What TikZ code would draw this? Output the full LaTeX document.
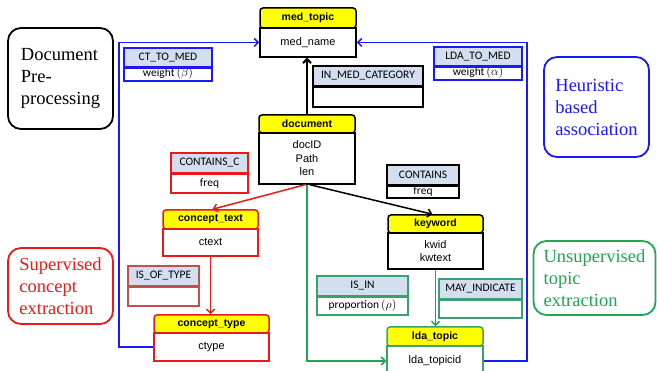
\documentclass[tikz,border=0pt]{standalone}
\usepackage{fontspec}
\setmainfont{Liberation Serif}
\setsansfont{Liberation Sans}
\newfontfamily\relfont{Carlito}
\newfontfamily\callfont{Liberation Serif}
\usetikzlibrary{arrows.meta}

\definecolor{hdrblue}{RGB}{211,223,238}
\definecolor{lblue}{RGB}{25,25,250}
\definecolor{lred}{RGB}{235,25,25}
\definecolor{lgreen}{RGB}{30,165,85}
\definecolor{dred}{RGB}{192,80,77}
\definecolor{mgreen}{RGB}{60,160,110}
\definecolor{eyellow}{RGB}{255,255,0}

\tikzset{
  ehead/.style={fill=eyellow, rounded corners=3pt, line width=1.5pt, inner sep=0pt,
    font=\sffamily\bfseries\fontsize{10.5}{12}\selectfont},
  ebody/.style={fill=white, line width=1.5pt, inner sep=0pt, align=center,
    font=\sffamily\fontsize{11}{13.5}\selectfont},
  rhead/.style={fill=hdrblue, line width=1.2pt, inner sep=0pt,
    font=\relfont\fontsize{11.5}{12}\selectfont},
  rbody/.style={fill=white, line width=1.2pt, inner sep=0pt,
    font=\relfont\fontsize{11.5}{12}\selectfont},
  callout/.style={rounded corners=13pt, line width=1.8pt, align=left, inner sep=0pt,
    font=\callfont\fontsize{18.5}{22}\selectfont},
  conn/.style={line width=1.5pt, -{Straight Barb[length=4pt,width=8pt]}},
}

% name x1 x2 y1 ym y2 colour title body
\newcommand\entitybox[9]{%
  \node[ehead, draw=#7, minimum width={(#3-#2)*1pt}, minimum height={(#5-#4)*1pt}]
    (#1-h) at ({(#2+#3)/2},{(#4+#5)/2}) {#8};
  \node[ebody, draw=#7, minimum width={(#3-#2)*1pt}, minimum height={(#6-#5)*1pt}]
    (#1-b) at ({(#2+#3)/2},{(#5+#6)/2}) {#9};
}
\newcommand\relbox[9]{%
  \node[rhead, draw=#7, minimum width={(#3-#2)*1pt}, minimum height={(#5-#4)*1pt}]
    (#1-h) at ({(#2+#3)/2},{(#4+#5)/2}) {#8};
  \node[rbody, draw=#7, minimum width={(#3-#2)*1pt}, minimum height={(#6-#5)*1pt}]
    (#1-b) at ({(#2+#3)/2},{(#5+#6)/2}) {#9};
  \draw[#7, line width=2pt] (#1-h.south west) -- (#1-h.south east);
}

\begin{document}
\begin{tikzpicture}[x=1pt,y=-1pt]
\useasboundingbox (0,0) rectangle (657,371);

% callout boxes
\node[callout, draw=black, minimum width=105pt, minimum height=101pt] (pre) at (60.5,78.5)
  {Document\\Pre-\\processing};
\node[callout, draw=lblue, text=lblue, minimum width=105pt, minimum height=100pt] (heur) at (596.5,107)
  {Heuristic\\based\\association};
\node[callout, draw=lred, text=lred, minimum width=105pt, minimum height=76pt] (sup) at (60.5,286)
  {Supervised\\concept\\extraction};
\node[callout, draw=lgreen, text=lgreen, minimum width=122pt, minimum height=74pt] (unsup) at (594.5,278)
  {Unsupervised\\topic\\extraction};

% helper coordinates for routed connectors
\coordinate (bl) at (119,0);
\coordinate (br) at (527,0);

% relationship boxes
\relbox{cttomed}{124}{212}{48}{67}{81}{lblue}{CT\_TO\_MED}{weight\,$(\beta)$}
\relbox{ldatomed}{434}{522}{47}{66}{80}{lblue}{LDA\_TO\_MED}{weight\,$(\alpha)$}
\relbox{inmed}{313}{423}{66}{86}{107}{black}{IN\_MED\_CATEGORY}{}
\relbox{containsc}{171}{248}{153}{173}{193}{lred}{CONTAINS\_C}{freq}
\relbox{contains}{387}{459}{165}{185}{198}{black}{CONTAINS}{freq}
\relbox{isoftype}{128}{199}{266}{286}{306}{dred}{IS\_OF\_TYPE}{}
\relbox{isin}{317}{408}{276}{296}{315}{mgreen}{IS\_IN}{proportion\,$(\rho)$}
\relbox{mayind}{439}{522}{279}{299}{318}{mgreen}{MAY\_INDICATE}{}

% entities
\entitybox{med}{260}{356}{8}{28}{57}{black}{med\_topic}{med\_name}
\entitybox{doc}{259}{355}{115}{133}{184}{black}{document}{docID\\Path\\len}
\entitybox{ct}{163}{258}{210}{229}{256}{lred}{concept\_text}{ctext}
\entitybox{cty}{154}{269}{315}{333}{361}{lred}{concept\_type}{ctype}
\entitybox{kw}{388}{483}{215}{233}{269}{black}{keyword}{kwid\\kwtext}
\entitybox{lda}{387}{483}{327}{346}{376}{mgreen}{lda\_topic}{lda\_topicid}

% connectors
\draw[conn, lblue] (cty-b.west) -- (cty-b.west -| bl) -- (bl |- med-b.west) -- (med-b.west);
\draw[conn, lblue] (lda-b.east) -- (lda-b.east -| br) -- (br |- med-b.east) -- (med-b.east);
\draw[conn, black, line width=2pt] (doc-h.north) -- (doc-h.north |- med-b.south);
\draw[conn, lred] ([xshift=-2pt]doc-b.south) -- ([xshift=2pt]ct-h.north);
\draw[conn, black] ([xshift=3pt]doc-b.south) -- ([xshift=-3pt]kw-h.north);
\draw[conn, lred] (ct-b.south) -- (ct-b.south |- cty-h.north);
\draw[conn, lgreen] (doc-b.south) |- (lda-b.west);
\draw[conn, lgreen] (kw-b.south) -- (kw-b.south |- lda-h.north);
\end{tikzpicture}
\end{document}
